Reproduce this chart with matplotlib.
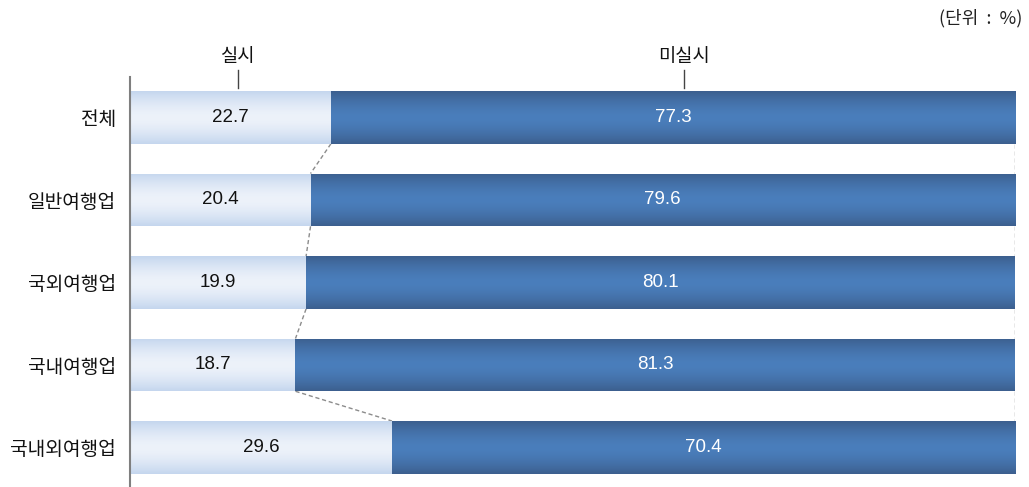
import numpy as np
import matplotlib
matplotlib.use("Agg")
import matplotlib.pyplot as plt
from matplotlib.colors import to_rgb

plt.rcParams['font.family'] = ['Noto Sans CJK KR', 'DejaVu Sans']

categories = ['전체', '일반여행업', '국외여행업', '국내여행업', '국내외여행업']
done = [22.7, 20.4, 19.9, 18.7, 29.6]
not_done = [77.3, 79.6, 80.1, 81.3, 70.4]
series_names = ['실시', '미실시']
unit_text = '(단위  :  %)'

fig = plt.figure(figsize=(10.29, 4.87), dpi=100)
ax = fig.add_axes([130/1029, 0.0, 885/1029, 1 - 77/487])

y = np.arange(len(categories))
h = 0.64
light_bars = ax.barh(y, done, height=h, color='none', edgecolor='none')
dark_bars = ax.barh(y, not_done, left=done, height=h, color='none', edgecolor='none')

def gradient(edge, center, n=200):
    e = np.array(to_rgb(edge)); c = np.array(to_rgb(center))
    t = np.linspace(0, 1, n)
    w = 1 - np.abs(2 * t - 1) ** 1.6
    return (e[None, :] * (1 - w[:, None]) + c[None, :] * w[:, None])[:, None, :]

g_light = gradient('#c4d6ee', '#edf2fa')
g_dark = gradient('#3c5f8e', '#4a7ebc')

for bars, g in ((light_bars, g_light), (dark_bars, g_dark)):
    for b in bars:
        x0, y0 = b.get_x(), b.get_y()
        w, hh = b.get_width(), b.get_height()
        im = ax.imshow(g, extent=(x0, x0 + w, y0 + hh, y0), aspect='auto',
                       interpolation='bicubic', zorder=2)
        im.set_clip_path(b)

ax.set_xlim(0, 100)
ax.set_ylim(4.48, -0.49)

num_font = ['Liberation Sans', 'DejaVu Sans']
# value labels
for i, b in enumerate(light_bars):
    ax.text(b.get_x() + b.get_width() / 2, b.get_y() + b.get_height() / 2,
            f'{done[i]:.1f}', ha='center', va='center', fontsize=13.5,
            color='#111111', zorder=3, family=num_font)
for i, b in enumerate(dark_bars):
    ax.text(b.get_x() + b.get_width() / 2, b.get_y() + b.get_height() / 2,
            f'{not_done[i]:.1f}', ha='center', va='center', fontsize=13.5,
            color='white', zorder=3, family=num_font)

# connectors
for i in range(len(categories) - 1):
    b1, b2 = light_bars[i], light_bars[i + 1]
    ax.plot([b1.get_width(), b2.get_width()],
            [b1.get_y() + b1.get_height(), b2.get_y()],
            ls=(0, (3, 2)), color='#8c8c8c', lw=1.0, zorder=1)
    d1, d2 = dark_bars[i], dark_bars[i + 1]
    ax.plot([d1.get_x() + d1.get_width(), d2.get_x() + d2.get_width()],
            [d1.get_y() + d1.get_height(), d2.get_y()],
            ls=(0, (3, 2)), color='#8c8c8c', lw=1.0, zorder=1)

# series labels above first bar
top = light_bars[0].get_y()
for xpos, name in ((12.2, series_names[0]), (62.6, series_names[1])):
    ax.plot([xpos, xpos], [top - 0.04, top - 0.25], color='#444444', lw=1.0,
            clip_on=False)
    ax.text(xpos, top - 0.29, name, ha='center', va='bottom', fontsize=13.5,
            color='#111111', clip_on=False)

fig.text(1022/1029, 1 - 18/487, unit_text, ha='right', va='center', fontsize=13,
         color='#222222')

ax.set_yticks(y)
ax.set_yticklabels(categories, fontsize=13.8, color='#111111')
ax.tick_params(axis='y', length=0, pad=10)
ax.set_xticks([])
for s in ['top', 'right', 'bottom']:
    ax.spines[s].set_visible(False)
ax.spines['left'].set_color('#7f7f7f')
ax.spines['left'].set_linewidth(1.5)
ax.set_facecolor('none')

fig.savefig('out.png', dpi=100)
